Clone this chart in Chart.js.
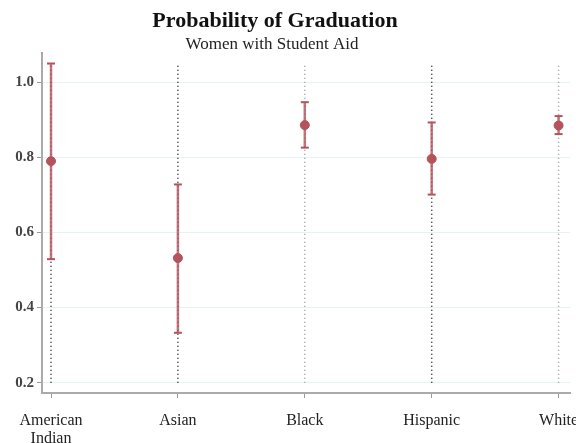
<!DOCTYPE html>
<html>
<head>
<meta charset="utf-8">
<script src="https://cdn.jsdelivr.net/npm/chart.js@4.4.0/dist/chart.umd.min.js"></script>
<style>
  body { margin: 0; background: #fff; }
  canvas { display: block; }
</style>
</head>
<body>
<canvas id="myChart" width="576" height="443"></canvas>
<script>
// datos
const categories = [["American", "Indian"], "Asian", "Black", "Hispanic", "White"];
const means = [0.79, 0.532, 0.886, 0.796, 0.885];
const ciLow = [0.529, 0.333, 0.826, 0.701, 0.862];
const ciHigh = [1.05, 0.728, 0.947, 0.893, 0.91];
const rangeLow = [0.2, 0.2, 0.2, 0.2, 0.2];
const rangeHigh = [1.05, 1.05, 1.05, 1.05, 1.05];
const yTicks = [0.2, 0.4, 0.6, 0.8, 1.0];

const red = "#b3535c";
const serif = "'Liberation Serif', 'DejaVu Serif', serif";

// lineas verticales con cortes (null) entre categorias
function verticals(lo, hi) {
  const pts = [];
  lo.forEach((v, i) => {
    pts.push({ x: i, y: v }, { x: i, y: hi[i] }, { x: i, y: null });
  });
  return pts;
}
const caps = [];
ciLow.forEach((v, i) => {
  caps.push({ x: i, y: v }, { x: i, y: ciHigh[i] });
});

const titlePlugin = {
  id: "titles",
  afterDraw(chart) {
    const ctx = chart.ctx;
    ctx.save();
    ctx.fillStyle = "#111";
    ctx.textAlign = "center";
    ctx.textBaseline = "middle";
    ctx.font = "bold 22px " + serif;
    ctx.fillText("Probability of Graduation", 275, 21);
    ctx.fillStyle = "#222";
    ctx.font = "17px " + serif;
    ctx.fillText("Women with Student Aid", 272, 45);
    ctx.restore();
  },
};

const config = {
  type: "scatter",
  data: {
    datasets: [
      {
        label: "mean",
        data: means.map((v, i) => ({ x: i, y: v })),
        pointRadius: 4.5,
        pointBackgroundColor: red,
        pointBorderColor: red,
        showLine: false,
        order: 0,
      },
      {
        label: "caps",
        data: caps,
        pointStyle: "line",
        pointRadius: 4,
        pointBorderColor: red,
        pointBorderWidth: 2,
        showLine: false,
        order: 1,
      },
      {
        label: "ci",
        data: verticals(ciLow, ciHigh),
        showLine: true,
        spanGaps: false,
        borderColor: "rgba(179, 83, 92, 0.8)",
        borderWidth: 2.5,
        pointRadius: 0,
        order: 2,
      },
      {
        label: "range",
        data: verticals(rangeLow, rangeHigh),
        showLine: true,
        spanGaps: false,
        borderWidth: 1.5,
        borderDash: [1, 3],
        segment: {
          borderColor: (c) => (c.p0.parsed.x === 2 || c.p0.parsed.x === 4 ? "#9a9a9a" : "#222"),
        },
        pointRadius: 0,
        order: 3,
      },
    ],
  },
  options: {
    responsive: false,
    animation: false,
    layout: { padding: { top: 53, right: 0, left: 0, bottom: 0 } },
    plugins: {
      legend: { display: false },
      tooltip: { enabled: false },
    },
    scales: {
      x: {
        type: "linear",
        min: -0.071,
        max: 4.09,
        afterBuildTicks: (scale) => {
          scale.ticks = categories.map((c, i) => ({ value: i }));
        },
        afterFit: (scale) => {
          scale.height = 50;
          // el area del grafico no se encoge por las etiquetas
          scale.paddingLeft = 0;
          scale.paddingRight = 0;
        },
        ticks: {
          autoSkip: false,
          maxRotation: 0,
          padding: 14,
          color: "#222",
          font: { family: serif, size: 16, lineHeight: 1.1 },
          callback: (v) => categories[v],
        },
        grid: { drawOnChartArea: false, tickLength: 5, tickColor: "#999" },
        border: { color: "#aaa", width: 2 },
      },
      y: {
        min: 0.1726,
        max: 1.078,
        afterBuildTicks: (scale) => {
          scale.ticks = yTicks.map((v) => ({ value: v }));
        },
        afterFit: (scale) => {
          scale.width = 42;
        },
        ticks: {
          padding: 3,
          color: "#444",
          font: { family: serif, size: 15, weight: "bold" },
          callback: (v) => v.toFixed(1),
        },
        grid: { color: "#e6f3f3", tickLength: 5, tickColor: "#999" },
        border: { color: "#aaa", width: 2 },
      },
    },
  },
  plugins: [titlePlugin],
};

const ctx = document.getElementById("myChart").getContext("2d");
new Chart(ctx, config);
</script>
</body>
</html>
